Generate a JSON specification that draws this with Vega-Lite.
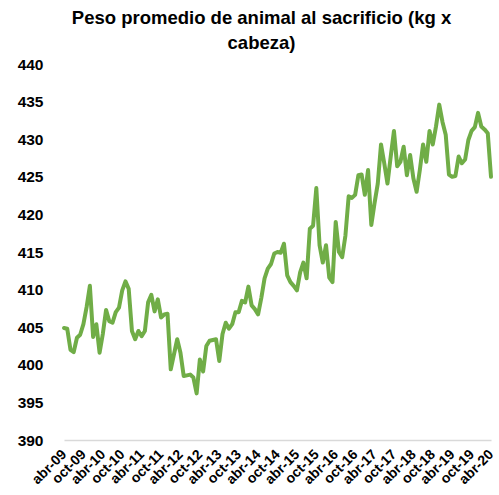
{
  "$schema": "https://vega.github.io/schema/vega-lite/v6.json",
  "width": 427,
  "height": 376,
  "autosize": {"type": "none"},
  "padding": {"left": 64, "top": 64, "right": 8, "bottom": 55},
  "title": {
    "text": ["Peso promedio de animal al sacrificio (kg x", "cabeza)"],
    "font": "Liberation Sans",
    "fontSize": 18.5,
    "fontWeight": "bold",
    "color": "#000000",
    "lineHeight": 25,
    "offset": 5,
    "dx": -16,
    "anchor": "middle"
  },
  "data": {
    "values": [
      {"mes": "abr-09", "peso": 404.9}, {"mes": "may-09", "peso": 404.8}, {"mes": "jun-09", "peso": 402.0}, {"mes": "jul-09", "peso": 401.7},
      {"mes": "ago-09", "peso": 403.6}, {"mes": "sep-09", "peso": 404.0}, {"mes": "oct-09", "peso": 405.4}, {"mes": "nov-09", "peso": 407.7},
      {"mes": "dic-09", "peso": 410.5}, {"mes": "ene-10", "peso": 403.7}, {"mes": "feb-10", "peso": 405.4}, {"mes": "mar-10", "peso": 401.6},
      {"mes": "abr-10", "peso": 404.1}, {"mes": "may-10", "peso": 407.3}, {"mes": "jun-10", "peso": 405.8}, {"mes": "jul-10", "peso": 405.6},
      {"mes": "ago-10", "peso": 407.0}, {"mes": "sep-10", "peso": 407.6}, {"mes": "oct-10", "peso": 409.9}, {"mes": "nov-10", "peso": 411.1},
      {"mes": "dic-10", "peso": 410.1}, {"mes": "ene-11", "peso": 404.5}, {"mes": "feb-11", "peso": 403.4}, {"mes": "mar-11", "peso": 404.5},
      {"mes": "abr-11", "peso": 403.8}, {"mes": "may-11", "peso": 404.5}, {"mes": "jun-11", "peso": 408.3}, {"mes": "jul-11", "peso": 409.3},
      {"mes": "ago-11", "peso": 407.1}, {"mes": "sep-11", "peso": 408.7}, {"mes": "oct-11", "peso": 406.3}, {"mes": "nov-11", "peso": 406.7},
      {"mes": "dic-11", "peso": 406.8}, {"mes": "ene-12", "peso": 399.4}, {"mes": "feb-12", "peso": 401.4}, {"mes": "mar-12", "peso": 403.4},
      {"mes": "abr-12", "peso": 401.6}, {"mes": "may-12", "peso": 398.5}, {"mes": "jun-12", "peso": 398.6}, {"mes": "jul-12", "peso": 398.7},
      {"mes": "ago-12", "peso": 398.3}, {"mes": "sep-12", "peso": 396.2}, {"mes": "oct-12", "peso": 400.7}, {"mes": "nov-12", "peso": 399.1},
      {"mes": "dic-12", "peso": 402.5}, {"mes": "ene-13", "peso": 403.2}, {"mes": "feb-13", "peso": 403.3}, {"mes": "mar-13", "peso": 403.4},
      {"mes": "abr-13", "peso": 400.5}, {"mes": "may-13", "peso": 404.1}, {"mes": "jun-13", "peso": 405.6}, {"mes": "jul-13", "peso": 404.8},
      {"mes": "ago-13", "peso": 405.4}, {"mes": "sep-13", "peso": 407.0}, {"mes": "oct-13", "peso": 407.0}, {"mes": "nov-13", "peso": 408.5},
      {"mes": "dic-13", "peso": 408.3}, {"mes": "ene-14", "peso": 410.4}, {"mes": "feb-14", "peso": 407.9}, {"mes": "mar-14", "peso": 407.4},
      {"mes": "abr-14", "peso": 406.7}, {"mes": "may-14", "peso": 408.9}, {"mes": "jun-14", "peso": 411.5}, {"mes": "jul-14", "peso": 412.8},
      {"mes": "ago-14", "peso": 413.4}, {"mes": "sep-14", "peso": 414.8}, {"mes": "oct-14", "peso": 415.0}, {"mes": "nov-14", "peso": 414.9},
      {"mes": "dic-14", "peso": 416.1}, {"mes": "ene-15", "peso": 411.9}, {"mes": "feb-15", "peso": 411.0}, {"mes": "mar-15", "peso": 410.5},
      {"mes": "abr-15", "peso": 409.9}, {"mes": "may-15", "peso": 412.3}, {"mes": "jun-15", "peso": 413.6}, {"mes": "jul-15", "peso": 411.5},
      {"mes": "ago-15", "peso": 418.1}, {"mes": "sep-15", "peso": 418.5}, {"mes": "oct-15", "peso": 423.5}, {"mes": "nov-15", "peso": 415.9},
      {"mes": "dic-15", "peso": 413.6}, {"mes": "ene-16", "peso": 415.9}, {"mes": "feb-16", "peso": 411.6}, {"mes": "mar-16", "peso": 411.0},
      {"mes": "abr-16", "peso": 419.0}, {"mes": "may-16", "peso": 415.0}, {"mes": "jun-16", "peso": 414.3}, {"mes": "jul-16", "peso": 417.2},
      {"mes": "ago-16", "peso": 422.4}, {"mes": "sep-16", "peso": 422.2}, {"mes": "oct-16", "peso": 422.6}, {"mes": "nov-16", "peso": 425.2},
      {"mes": "dic-16", "peso": 425.3}, {"mes": "ene-17", "peso": 422.6}, {"mes": "feb-17", "peso": 425.9}, {"mes": "mar-17", "peso": 418.6},
      {"mes": "abr-17", "peso": 421.5}, {"mes": "may-17", "peso": 424.1}, {"mes": "jun-17", "peso": 429.3}, {"mes": "jul-17", "peso": 426.8},
      {"mes": "ago-17", "peso": 424.1}, {"mes": "sep-17", "peso": 427.7}, {"mes": "oct-17", "peso": 431.1}, {"mes": "nov-17", "peso": 426.4},
      {"mes": "dic-17", "peso": 427.0}, {"mes": "ene-18", "peso": 429.0}, {"mes": "feb-18", "peso": 425.2}, {"mes": "mar-18", "peso": 427.9},
      {"mes": "abr-18", "peso": 424.8}, {"mes": "may-18", "peso": 423.0}, {"mes": "jun-18", "peso": 425.9}, {"mes": "jul-18", "peso": 429.3},
      {"mes": "ago-18", "peso": 427.0}, {"mes": "sep-18", "peso": 431.1}, {"mes": "oct-18", "peso": 429.3}, {"mes": "nov-18", "peso": 431.7},
      {"mes": "dic-18", "peso": 434.6}, {"mes": "ene-19", "peso": 432.3}, {"mes": "feb-19", "peso": 430.6}, {"mes": "mar-19", "peso": 425.3},
      {"mes": "abr-19", "peso": 425.0}, {"mes": "may-19", "peso": 425.1}, {"mes": "jun-19", "peso": 427.7}, {"mes": "jul-19", "peso": 426.8},
      {"mes": "ago-19", "peso": 427.3}, {"mes": "sep-19", "peso": 429.9}, {"mes": "oct-19", "peso": 431.1}, {"mes": "nov-19", "peso": 431.6},
      {"mes": "dic-19", "peso": 433.5}, {"mes": "ene-20", "peso": 431.7}, {"mes": "feb-20", "peso": 431.3}, {"mes": "mar-20", "peso": 430.8},
      {"mes": "abr-20", "peso": 425.0}
    ]
  },
  "mark": {"type": "line", "color": "#70ad47", "strokeWidth": 4, "strokeJoin": "round", "strokeCap": "round"},
  "encoding": {
    "x": {
      "field": "mes",
      "type": "ordinal",
      "sort": null,
      "scale": {"type": "point", "padding": 0},
      "axis": {
        "title": null,
        "values": ["abr-09", "oct-09", "abr-10", "oct-10", "abr-11", "oct-11", "abr-12", "oct-12", "abr-13", "oct-13", "abr-14", "oct-14", "abr-15", "oct-15", "abr-16", "oct-16", "abr-17", "oct-17", "abr-18", "oct-18", "abr-19", "oct-19", "abr-20"],
        "labelAngle": -45,
        "labelAlign": "right",
        "labelBaseline": "middle",
        "labelFont": "Liberation Sans",
        "labelFontSize": 14,
        "labelFontWeight": "bold",
        "labelColor": "#000000",
        "labelOverlap": false,
        "labelPadding": 12,
        "ticks": false,
        "domain": true,
        "domainColor": "#d9d9d9",
        "domainWidth": 1.5,
        "grid": false
      }
    },
    "y": {
      "field": "peso",
      "type": "quantitative",
      "scale": {"domain": [390, 440], "nice": false, "zero": false},
      "axis": {
        "title": null,
        "values": [390, 395, 400, 405, 410, 415, 420, 425, 430, 435, 440],
        "grid": false,
        "domain": false,
        "ticks": false,
        "labelPadding": 21,
        "labelFont": "Liberation Sans",
        "labelFontSize": 15.5,
        "labelFontWeight": "bold",
        "labelColor": "#000000"
      }
    }
  },
  "config": {"view": {"stroke": null}}
}
